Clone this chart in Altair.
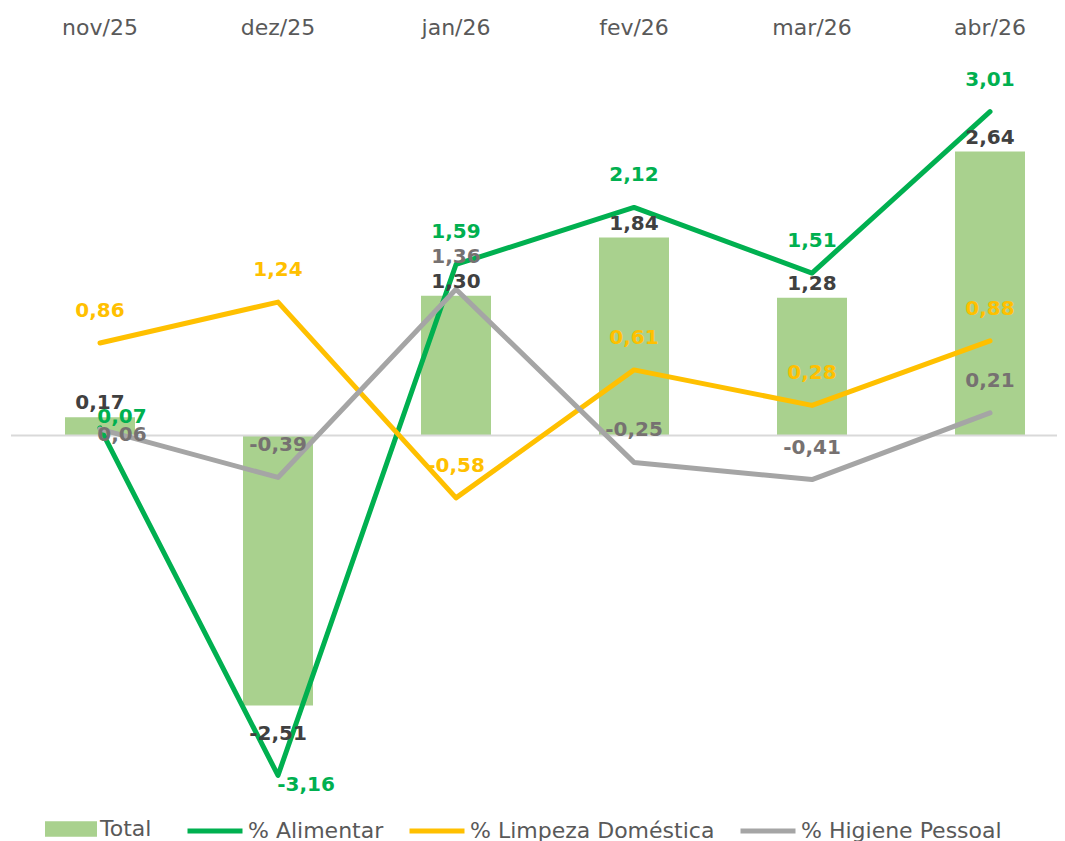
import altair as alt
import pandas as pd

months = ["nov/25", "dez/25", "jan/26", "fev/26", "mar/26", "abr/26"]
total = [0.17, -2.51, 1.30, 1.84, 1.28, 2.64]
alimentar = [0.07, -3.16, 1.59, 2.12, 1.51, 3.01]
limpeza = [0.86, 1.24, -0.58, 0.61, 0.28, 0.88]
higiene = [0.06, -0.39, 1.36, -0.25, -0.41, 0.21]

line_names = ["% Alimentar", "% Limpeza Doméstica", "% Higiene Pessoal"]
line_values = [alimentar, limpeza, higiene]
line_colors = ["#00B050", "#FFC000", "#A5A5A5"]
label_colors = {"% Alimentar": "#00B050", "% Limpeza Doméstica": "#FFC000", "% Higiene Pessoal": "#767171"}
# label placement for near-zero line points (placed to the right of the point)
near_zero_dy = {"% Alimentar": -11, "% Limpeza Doméstica": -11, "% Higiene Pessoal": 6}

FONT = "DejaVu Sans"


def fmt(v):
    return f"{v:.2f}".replace(".", ",")


df_bar = pd.DataFrame({"mes": months, "valor": total, "serie": "Total"})
df_bar["lbl"] = [fmt(v) for v in total]

rows = []
for name, vals in zip(line_names, line_values):
    for m, v in zip(months, vals):
        rows.append({"mes": m, "valor": v, "serie": name, "lbl": fmt(v)})
df_lines = pd.DataFrame(rows)

x_enc = alt.X(
    "mes:N",
    sort=months,
    scale=alt.Scale(domain=months, range=[0, 1068], paddingInner=0, paddingOuter=0),
    axis=alt.Axis(
        orient="top", title=None, domain=False, ticks=False, tickSize=0,
        labelAngle=0, labelFont=FONT, labelFontSize=22, labelColor="#595959",
        labelPadding=32, labelBaseline="middle",
    ),
)
y_enc = alt.Y("valor:Q", scale=alt.Scale(domain=[-3.5, 3.5]), axis=None)

bars = alt.Chart(df_bar).mark_bar(width=70).encode(
    x=x_enc,
    y=y_enc,
    fill=alt.Fill(
        "serie:N",
        scale=alt.Scale(domain=["Total"], range=["#A9D18E"]),
        legend=alt.Legend(
            title=None, orient="none", legendX=34, legendY=744,
            symbolType="M-1,-0.3H1V0.3H-1Z", symbolSize=2704, symbolStrokeWidth=0,
            labelFont=FONT, labelFontSize=22, labelColor="#595959", labelOffset=3,
            labelLimit=500, padding=0,
        ),
    ),
)

zero = alt.Chart(pd.DataFrame({"z": [0]})).mark_rule(color="#D9D9D9", strokeWidth=2).encode(
    y=alt.Y("z:Q", scale=alt.Scale(domain=[-3.5, 3.5]), axis=None)
)

stroke_scale = alt.Scale(domain=line_names, range=line_colors)
line_layers = []
for name in line_names:
    line_layers.append(
        alt.Chart(df_lines).transform_filter(alt.datum.serie == name)
        .mark_line(strokeWidth=5, strokeCap="round", strokeJoin="round")
        .encode(
            x=x_enc,
            y=y_enc,
            stroke=alt.Stroke(
                "serie:N",
                scale=stroke_scale,
                legend=alt.Legend(
                    title=None, orient="none", legendX=174, legendY=742,
                    direction="horizontal", symbolType="stroke", symbolSize=3025,
                    symbolStrokeWidth=5, labelFont=FONT, labelFontSize=22,
                    labelColor="#595959", labelOffset=3, columnPadding=15, padding=0,
                    labelLimit=500,
                ),
            ),
        )
    )

LBL = dict(font=FONT, fontSize=20, fontWeight="bold", baseline="middle")
text_layers = []
# bar labels
text_layers.append(
    alt.Chart(df_bar).transform_filter(alt.datum.valor >= 0)
    .mark_text(color="#404040", dy=-14, **LBL)
    .encode(x=x_enc, y=y_enc, text="lbl:N")
)
text_layers.append(
    alt.Chart(df_bar).transform_filter(alt.datum.valor < 0)
    .mark_text(color="#404040", dy=28, **LBL)
    .encode(x=x_enc, y=y_enc, text="lbl:N")
)
for name in line_names:
    c = label_colors[name]
    base = alt.Chart(df_lines).transform_filter(alt.datum.serie == name)
    # regular: above the point
    text_layers.append(
        base.transform_filter((alt.datum.valor > -1) & ((alt.datum.valor > 0.15) | (alt.datum.valor < -0.15)))
        .mark_text(color=c, dy=-32, **LBL)
        .encode(x=x_enc, y=y_enc, text="lbl:N")
    )
    # near zero: to the right of the point
    text_layers.append(
        base.transform_filter((alt.datum.valor <= 0.15) & (alt.datum.valor >= -0.15))
        .mark_text(color=c, dx=22, dy=near_zero_dy[name], **LBL)
        .encode(x=x_enc, y=y_enc, text="lbl:N")
    )
    # strongly negative: right-below
    text_layers.append(
        base.transform_filter(alt.datum.valor <= -1)
        .mark_text(color=c, dx=28, dy=10, **LBL)
        .encode(x=x_enc, y=y_enc, text="lbl:N")
    )

chart = alt.layer(bars, zero, *line_layers, *text_layers).properties(
    width=1046,
    height=753,
    autosize=alt.AutoSizeParams(type="none"),
    padding={"left": 3, "top": 51, "right": 0, "bottom": 29},
).configure_view(stroke=None)

chart.save("out.html", embed_options={"renderer": "svg", "actions": False})
